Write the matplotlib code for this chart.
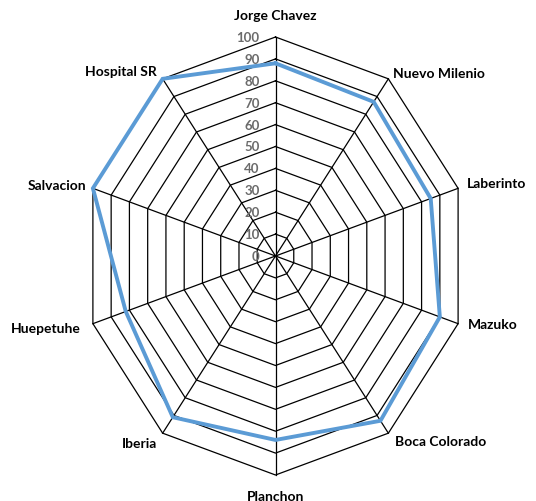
import matplotlib.pyplot as plt
import numpy as np

# categories clockwise from the top
categories = ["Jorge Chavez", "Nuevo Milenio", "Laberinto", "Mazuko", "Boca Colorado",
              "Planchon", "Iberia", "Huepetuhe", "Salvacion", "Hospital SR"]
values = [88, 87, 85, 90, 93, 84, 91, 82, 100, 100]
ticks = [0, 10, 20, 30, 40, 50, 60, 70, 80, 90, 100]

# label offsets in pixels from the outer vertex, and alignment
label_offsets = [(0, 22), (5, 6), (9, 5), (10, 0), (7, -8),
                 (0, -21), (-6, -10), (-12, -4), (-7, 3), (-6, 8)]
label_ha = ["center", "left", "left", "left", "left",
            "center", "right", "right", "right", "right"]

fig = plt.figure(figsize=(5.36, 5.02), dpi=100)
ax = fig.add_axes([0, 0, 1, 1])
ax.set_xlim(-275.5 / 1.92, (536 - 275.5) / 1.92)
ax.set_ylim(-245 / 2.19, 257 / 2.19)
ax.axis("off")

n = len(categories)
theta = np.arange(n) * 2 * np.pi / n
sx, cy = np.sin(theta), np.cos(theta)

# polygon grid rings
for t in ticks[1:]:
    ax.plot(np.append(t * sx, t * sx[0]), np.append(t * cy, t * cy[0]),
            color="black", lw=0.9, zorder=1)
# spokes
for i in range(n):
    ax.plot([0, 100 * sx[i]], [0, 100 * cy[i]], color="black", lw=0.9, zorder=1)

# data series
v = np.array(values, dtype=float)
ax.plot(np.append(v * sx, v[0] * sx[0]), np.append(v * cy, v[0] * cy[0]),
        color="#5B9BD5", lw=2.8, zorder=3, solid_joinstyle="miter")

# value axis labels
for t in ticks:
    ax.annotate(str(t), (0, t), xytext=(-16, 0), textcoords="offset pixels",
                ha="right", va="center", fontsize=9.5, fontweight="bold",
                color="#6b6b6b", family="Lato", zorder=4)

# category labels
for i, name in enumerate(categories):
    ax.annotate(name, (100 * sx[i], 100 * cy[i]), xytext=label_offsets[i],
                textcoords="offset pixels", ha=label_ha[i], va="center",
                fontsize=10, fontweight="bold", color="black", family="Lato")

plt.savefig("out.png", dpi=100)
